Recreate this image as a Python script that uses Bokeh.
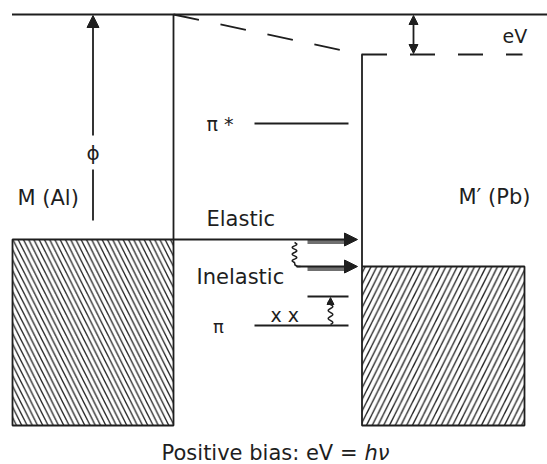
import numpy as np
from bokeh.plotting import figure
from bokeh.models import Range1d, Arrow, NormalHead
from bokeh.core.properties import value
from bokeh.embed import file_html
from bokeh.resources import INLINE

# ---- diagram values (screen-like units, y grows downward) ----
vacuum_level = [11.5, 547, 14]          # x0, x1, y of vacuum level of M
barrier_left = [173, 14, 239]           # x, y_top, y_bottom
barrier_right = [361.5, 54, 266]        # x, y_top, y_bottom
slope_line = [173, 14, 361.5, 54]       # tilted barrier top (dashed)
right_vacuum = [361.5, 522, 54]         # dashed level of M'
metal_M = [12, 173, 239, 425]           # left, right, top, bottom (filled states)
metal_Mp = [361.5, 524, 266, 425]
pi_star_level = [254, 348, 123]
pi_level = [254, 348, 325]
excited_level = [307, 348, 296]
elastic_arrow = [173, 357, 239]
inelastic_arrow = [296, 357, 266]
phi_arrow = [92.5, 135, 15]
phi_lower = [92.5, 169, 220]
ev_arrow = [413, 54, 14]

labels_left = ["M (Al)", "M\u2032 (Pb)", "Elastic", "Inelastic"]
labels_left_x = [17, 458, 206, 196]
labels_left_y = [197, 196, 218, 276]

INK = "#1e1e1e"
FONT = "DejaVu Sans"

p = figure(width=547, height=464, x_range=Range1d(0, 547), y_range=Range1d(464, 0),
           output_backend="svg", toolbar_location=None, min_border=0)
p.axis.visible = False
p.grid.visible = False
p.outline_line_color = None
p.background_fill_color = "white"
p.border_fill_color = "white"

LW = 1.8

# filled (hatched) electron states
p.quad(left=[metal_M[0]], right=[metal_M[1]], top=[metal_M[2]], bottom=[metal_M[3]],
       fill_color="white", hatch_pattern="\\", hatch_scale=10.5, hatch_weight=1.3,
       hatch_color=INK, line_color=INK, line_width=LW)
p.quad(left=[metal_Mp[0]], right=[metal_Mp[1]], top=[metal_Mp[2]], bottom=[metal_Mp[3]],
       fill_color="white", hatch_pattern="/", hatch_scale=11.5, hatch_weight=1.3,
       hatch_color=INK, line_color=INK, line_width=LW)

# vacuum level and barrier walls
p.line([vacuum_level[0], vacuum_level[1]], [vacuum_level[2], vacuum_level[2]], line_color=INK, line_width=LW)
p.line([barrier_left[0], barrier_left[0]], [barrier_left[1], barrier_left[2]], line_color=INK, line_width=LW)
p.line([barrier_right[0], barrier_right[0]], [barrier_right[1], barrier_right[2]], line_color=INK, line_width=LW)

# tilted barrier top (dashed) and M' vacuum level (dashed)
p.line([slope_line[0], slope_line[2]], [slope_line[1], slope_line[3]], line_color=INK,
       line_width=LW, line_dash="26 22")
p.line([right_vacuum[0], right_vacuum[1]], [right_vacuum[2], right_vacuum[2]], line_color=INK,
       line_width=LW, line_dash="25 23")

# molecular levels
for lev in (pi_star_level, pi_level, excited_level):
    p.line([lev[0], lev[1]], [lev[2], lev[2]], line_color=INK, line_width=LW)

# tunnelling arrows with gray shading
for arr in (elastic_arrow, inelastic_arrow):
    p.line([307, arr[1] - 12], [arr[2] + 2.5, arr[2] + 2.5], line_color="#707070", line_width=4)
    p.add_layout(Arrow(end=NormalHead(size=13, fill_color=INK, line_color=INK, line_width=1),
                       x_start=arr[0], y_start=arr[2], x_end=arr[1], y_end=arr[2],
                       line_color=INK, line_width=LW))

# squiggle (energy loss) between elastic and inelastic path
t1 = np.linspace(0, 1, 40)
sq1_y = 242 + 20 * t1
sq1_x = 294 + 2.3 * np.sin(t1 * 3 * 2 * np.pi)
sq1_x = np.concatenate([sq1_x, [294.5, 297, 300]])
sq1_y = np.concatenate([sq1_y, [264.5, 266, 266]])
p.line(sq1_x, sq1_y, line_color=INK, line_width=1.5)

# squiggle excitation pi -> upper level
t2 = np.linspace(0, 1, 40)
sq2_y = 324 - 24 * t2
sq2_x = 330 + 2.3 * np.sin(t2 * 3 * 2 * np.pi)
p.line(sq2_x, sq2_y, line_color=INK, line_width=1.5)
p.add_layout(Arrow(end=NormalHead(size=7, fill_color=INK, line_color=INK, line_width=1),
                   x_start=330, y_start=302, x_end=330, y_end=297,
                   line_color=INK, line_width=1.5))

# work function arrow
p.add_layout(Arrow(end=NormalHead(size=12, fill_color=INK, line_color=INK, line_width=1),
                   x_start=phi_arrow[0], y_start=phi_arrow[1], x_end=phi_arrow[0], y_end=phi_arrow[2],
                   line_color=INK, line_width=LW))
p.line([phi_lower[0], phi_lower[0]], [phi_lower[1], phi_lower[2]], line_color=INK, line_width=LW)

# eV double arrow
p.add_layout(Arrow(start=NormalHead(size=9, fill_color=INK, line_color=INK, line_width=1),
                   end=NormalHead(size=9, fill_color=INK, line_color=INK, line_width=1),
                   x_start=ev_arrow[0], y_start=ev_arrow[1] - 1, x_end=ev_arrow[0], y_end=ev_arrow[2] + 1,
                   line_color=INK, line_width=LW))

# texts
p.text(x=labels_left_x, y=labels_left_y, text=labels_left, text_align="left",
       text_baseline="middle", text_font=value(FONT), text_font_size="21px", text_color=INK)
p.text(x=[502], y=[35], text=["eV"], text_align="left", text_baseline="middle",
       text_font=value(FONT), text_font_size="19px", text_color=INK)
p.text(x=[206], y=[123], text=["\u03c0 *"], text_align="left", text_baseline="middle",
       text_font=value(FONT), text_font_size="19px", text_color=INK)
p.text(x=[270], y=[314], text=["x x"], text_align="left", text_baseline="middle",
       text_font=value(FONT), text_font_size="19px", text_color=INK)
p.text(x=[218], y=[326], text=["\u03c0"], text_align="center", text_baseline="middle",
       text_font=value(FONT), text_font_size="18px", text_color=INK)
p.text(x=[92.5], y=[152], text=["\u03d5"], text_align="center", text_baseline="middle",
       text_font=value(FONT), text_font_size="20px", text_color=INK)

# caption
p.text(x=[357], y=[452], text=["Positive bias: eV ="], text_align="right", text_baseline="middle",
       text_font=value(FONT), text_font_size="21px", text_color=INK)
p.text(x=[364], y=[452], text=["h\u03bd"], text_align="left", text_baseline="middle",
       text_font=value(FONT), text_font_size="21px", text_font_style="italic", text_color=INK)

open("out.html", "w").write(file_html(p, INLINE))
